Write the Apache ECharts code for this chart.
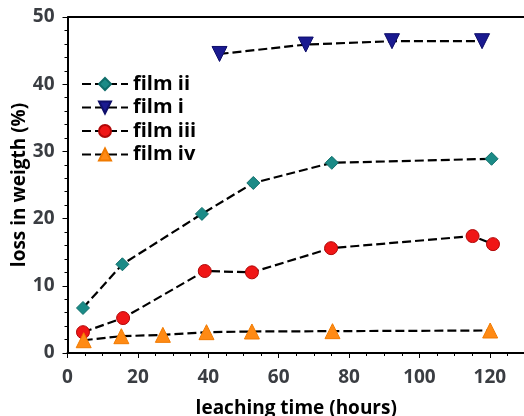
<!DOCTYPE html>
<html>
<head>
<meta charset="utf-8">
<script src="https://cdn.jsdelivr.net/npm/echarts@6/dist/echarts.min.js"></script>
<style>
  html, body { margin: 0; padding: 0; background: #fff; }
  #chart { width: 524px; height: 416px; }
</style>
</head>
<body>
<div id="chart"></div>
<script>
// values: [hours, loss %]
const filmII = [[4.4, 6.7], [15.6, 13.2], [38.2, 20.7], [52.8, 25.3], [75.1, 28.3], [120.5, 28.9]];
const filmI = [[43.2, 44.5], [67.7, 45.9], [92.2, 46.4], [117.8, 46.4]];
const filmIII = [[4.4, 3.1], [15.8, 5.2], [39.0, 12.2], [52.4, 12.0], [74.9, 15.6], [115.1, 17.4], [120.9, 16.2]];
const filmIV = [[4.6, 1.9], [15.3, 2.5], [27.1, 2.7], [39.5, 3.1], [52.4, 3.2], [75.3, 3.25], [120.1, 3.35]];

const names = ["film ii", "film i", "film iii", "film iv"];

const dash = { color: "#000", width: 2.2, type: [9, 4] };

function mkSeries(name, data, symbol, size, color, border, rotate) {
  return {
    name: name,
    type: "line",
    data: data,
    symbol: symbol,
    symbolSize: size,
    symbolRotate: rotate || 0,
    showAllSymbol: true,
    lineStyle: dash,
    itemStyle: { color: color, borderColor: border, borderWidth: 1, opacity: 1 },
    emphasis: { disabled: true },
    z: 3,
  };
}

const chart = echarts.init(document.getElementById("chart"));
const option = {
  animation: false,
  textStyle: { fontFamily: "Open Sans" },
  grid: { left: 67.5, right: -1, top: 17, bottom: 63, containLabel: false, outerBoundsMode: "none" },
  legend: {
    data: names,
    left: 76,
    top: 69,
    orient: "vertical",
    itemWidth: 46,
    itemHeight: 15,
    itemGap: 3.5,
    textStyle: { fontSize: 20, fontWeight: "bold", color: "#000", fontFamily: "Open Sans" },
  },
  xAxis: {
    type: "value",
    min: 0,
    max: 130,
    interval: 20,
    name: "leaching time (hours)",
    nameLocation: "middle",
    nameGap: 46,
    nameMoveOverlap: false,
    nameTextStyle: { fontSize: 19, fontWeight: "bold", color: "#000" },
    axisLine: { onZero: false, lineStyle: { color: "#000", width: 2 } },
    axisTick: { lineStyle: { color: "#000", width: 1 }, length: 5 },
    minorTick: { show: true, splitNumber: 4, length: 3, lineStyle: { color: "#000" } },
    axisLabel: { fontSize: 19, fontWeight: "bold", color: "#3a3d42", margin: 15, showMaxLabel: false },
    splitLine: { show: false },
  },
  yAxis: {
    type: "value",
    min: 0,
    max: 50,
    interval: 10,
    name: "loss in weigth (%)",
    nameLocation: "middle",
    nameGap: 38,
    nameMoveOverlap: false,
    nameTextStyle: { fontSize: 19, fontWeight: "bold", color: "#000" },
    axisLine: { onZero: false, lineStyle: { color: "#000", width: 2 } },
    axisTick: { lineStyle: { color: "#000", width: 1 }, length: 5 },
    minorTick: { show: true, splitNumber: 5, length: 3, lineStyle: { color: "#000" } },
    axisLabel: { fontSize: 19, fontWeight: "bold", color: "#3a3d42", margin: 13 },
    splitLine: { show: false },
  },
  series: [
    mkSeries(names[0], filmII, "diamond", 13, "#1b8b87", "#0f6d6a"),
    mkSeries(names[1], filmI, "triangle", 15, "#1a1a90", "#0e0e6a", 180),
    mkSeries(names[2], filmIII, "circle", 13, "#f01616", "#b00808"),
    mkSeries(names[3], filmIV, "triangle", 15, "#ff8a14", "#f07a00"),
    {
      // top frame line
      type: "line",
      data: [],
      markLine: {
        silent: true,
        symbol: "none",
        label: { show: false },
        lineStyle: { color: "#000", width: 2, type: "solid" },
        data: [{ yAxis: 50 }],
      },
    },
  ],
};
chart.setOption(option);
</script>
</body>
</html>
